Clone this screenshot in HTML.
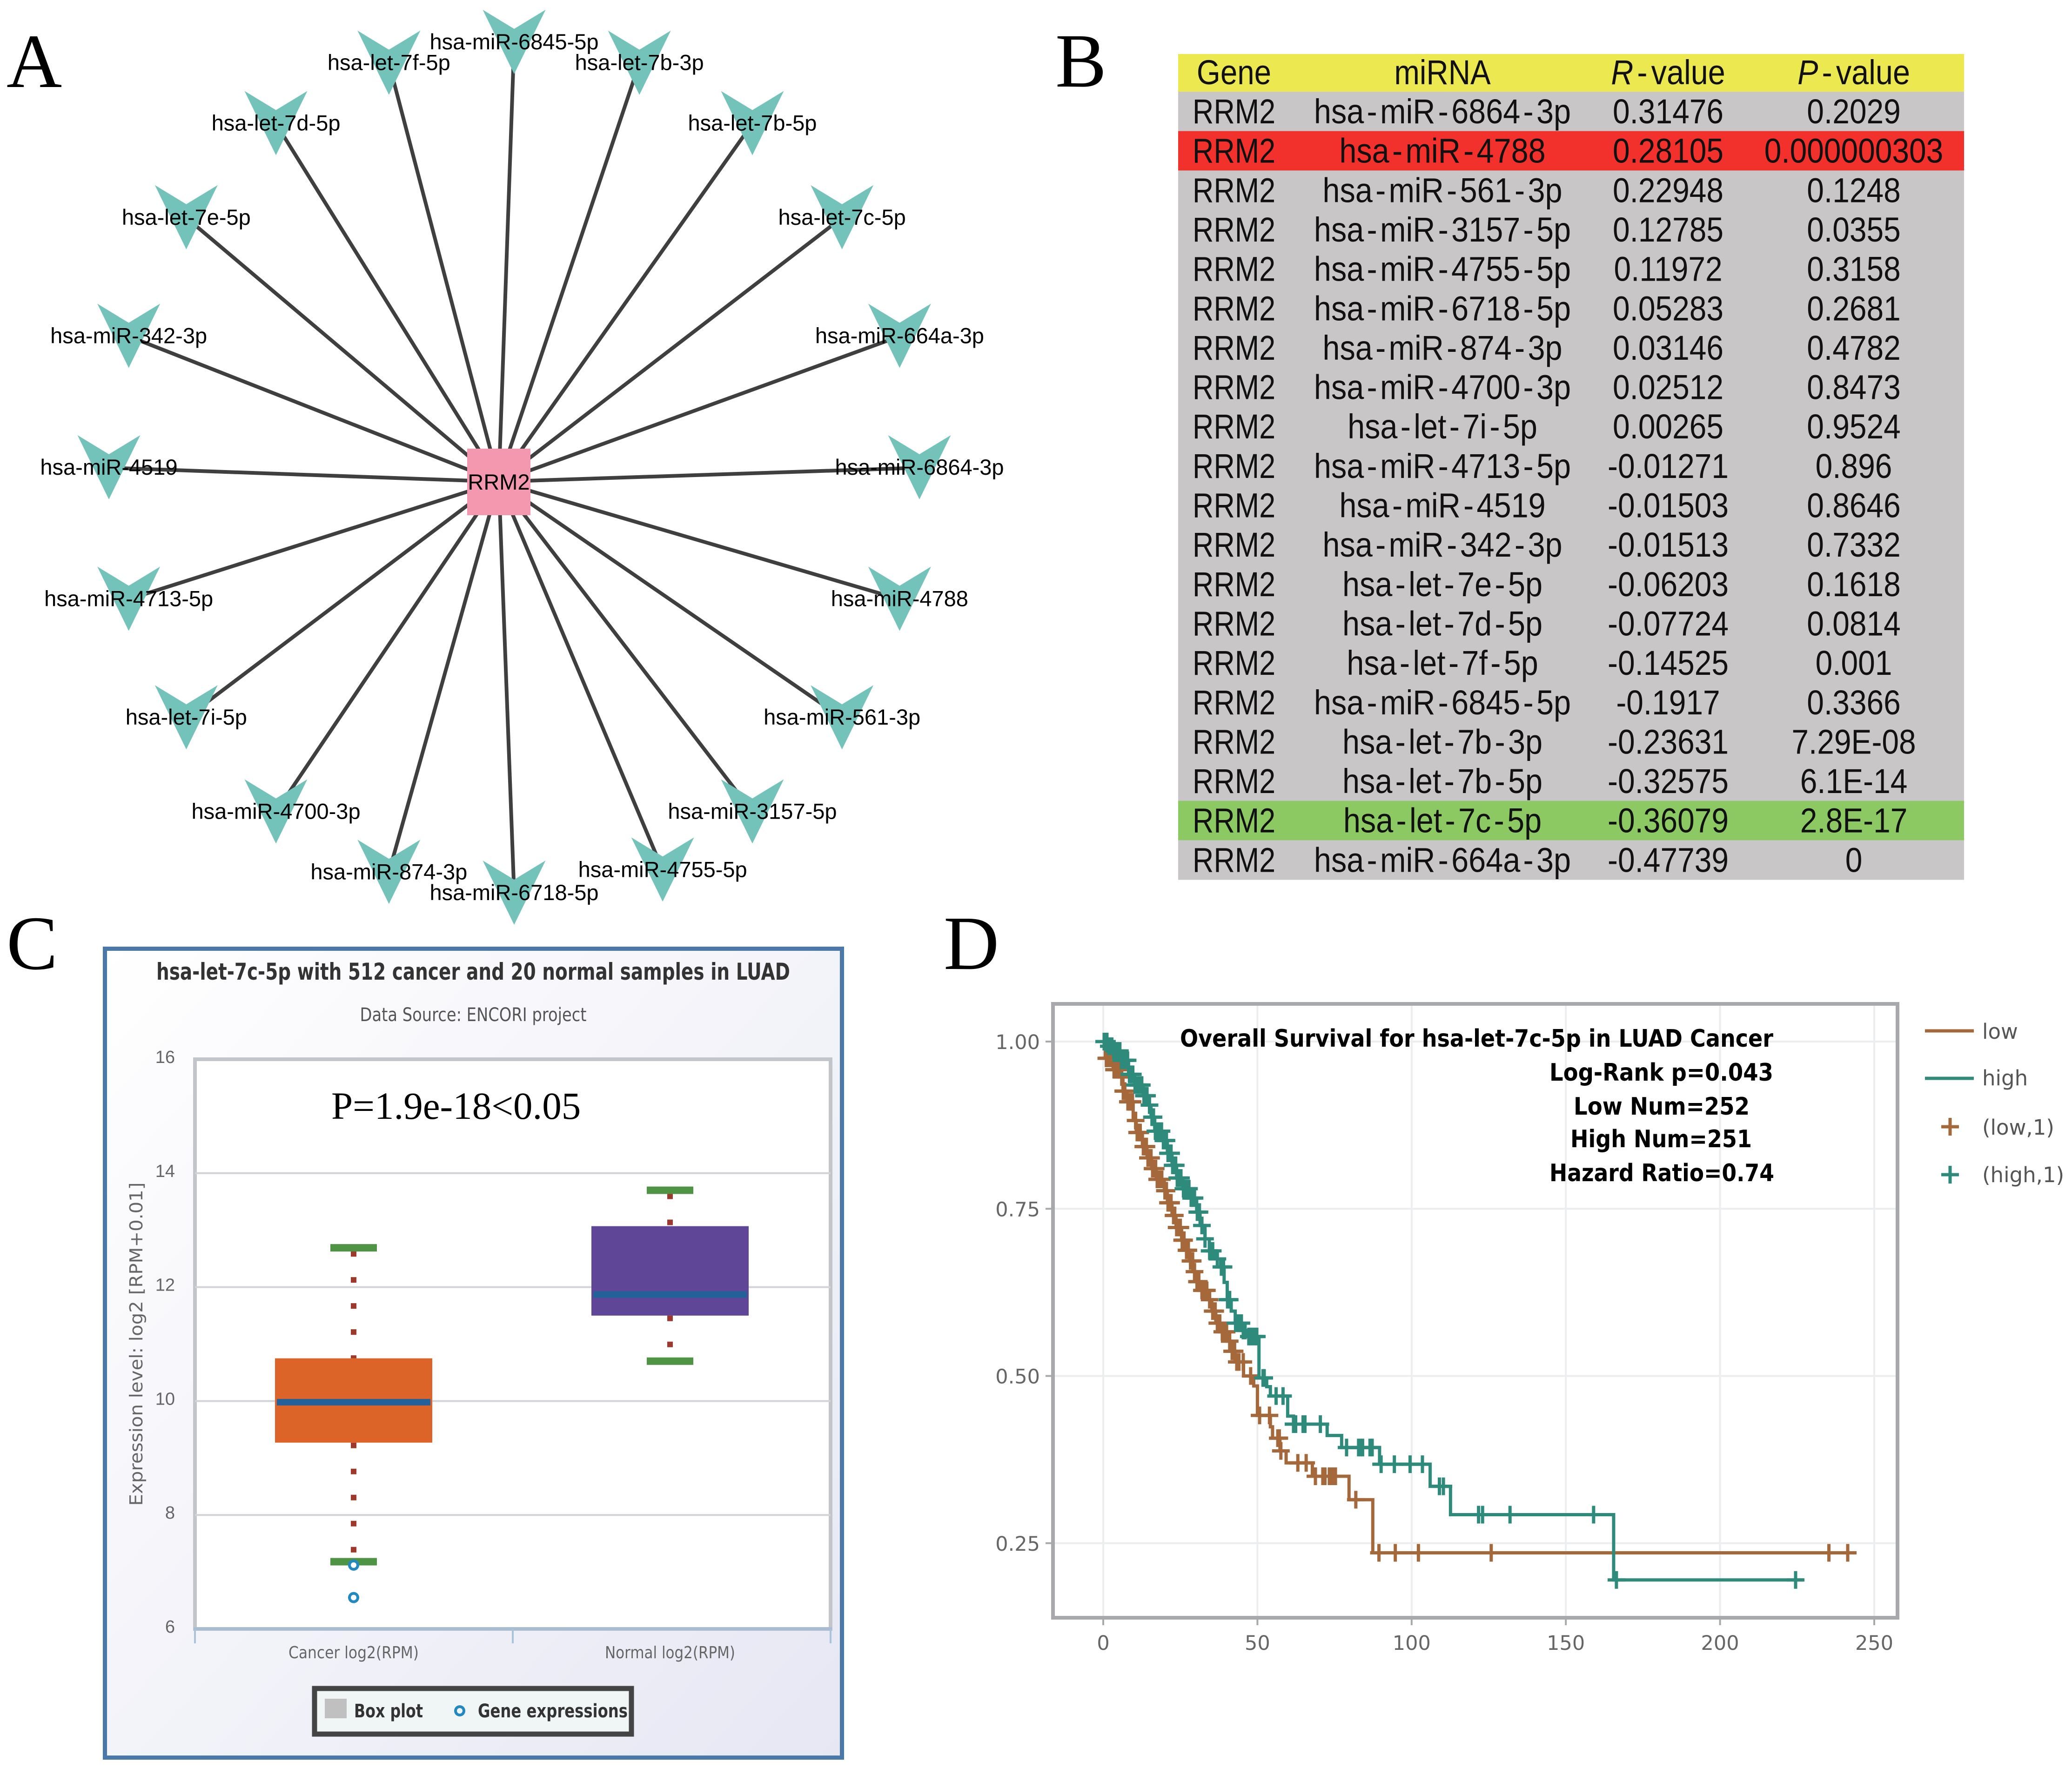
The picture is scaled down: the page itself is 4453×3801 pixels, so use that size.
<!DOCTYPE html>
<html>
<head>
<meta charset="utf-8">
<title>RRM2 miRNA analysis figure</title>
<style>
html,body{margin:0;padding:0;background:#fff;}
svg{display:block;}
.serif{font-family:"Liberation Serif",serif;}
.sans{font-family:"Liberation Sans",sans-serif;}
.dj{font-family:"DejaVu Sans",sans-serif;}
.djb{font-family:"DejaVu Sans",sans-serif;font-weight:bold;}
</style>
</head>
<body>
<svg id="fig" xmlns="http://www.w3.org/2000/svg" width="4453" height="3801" viewBox="0 0 4453 3801">
  <defs>
    <linearGradient id="panelGrad" x1="0" y1="0" x2="1" y2="1">
      <stop offset="0" stop-color="#ffffff"/>
      <stop offset="1" stop-color="#e7e7f4"/>
    </linearGradient>
  </defs>
  <rect x="0" y="0" width="4453" height="3801" fill="#ffffff"/>
  <text class="serif" x="14" y="187" font-size="165" fill="#000">A</text>
  <text class="serif" x="2268" y="186" font-size="165" fill="#000">B</text>
  <text class="serif" x="14" y="2082" font-size="165" fill="#000">C</text>
  <text class="serif" x="2028" y="2082" font-size="165" fill="#000">D</text>
  <g id="network"></g>
  <g id="table"></g>
  <g id="boxchart"></g>
  <g id="kmchart"></g>
</svg>
<script>
/* ---------- Panel A data ---------- */
const networkHub = 'RRM2';
const networkMirnas = ['hsa-miR-6845-5p','hsa-let-7b-3p','hsa-let-7b-5p','hsa-let-7c-5p','hsa-miR-664a-3p','hsa-miR-6864-3p','hsa-miR-4788','hsa-miR-561-3p','hsa-miR-3157-5p','hsa-miR-4755-5p','hsa-miR-6718-5p','hsa-miR-874-3p','hsa-miR-4700-3p','hsa-let-7i-5p','hsa-miR-4713-5p','hsa-miR-4519','hsa-miR-342-3p','hsa-let-7e-5p','hsa-let-7d-5p','hsa-let-7f-5p'];

/* ---------- Panel B data ---------- */
const tableMirna = ['hsa-miR-6864-3p','hsa-miR-4788','hsa-miR-561-3p','hsa-miR-3157-5p','hsa-miR-4755-5p','hsa-miR-6718-5p','hsa-miR-874-3p','hsa-miR-4700-3p','hsa-let-7i-5p','hsa-miR-4713-5p','hsa-miR-4519','hsa-miR-342-3p','hsa-let-7e-5p','hsa-let-7d-5p','hsa-let-7f-5p','hsa-miR-6845-5p','hsa-let-7b-3p','hsa-let-7b-5p','hsa-let-7c-5p','hsa-miR-664a-3p'];
const tableR = ['0.31476','0.28105','0.22948','0.12785','0.11972','0.05283','0.03146','0.02512','0.00265','-0.01271','-0.01503','-0.01513','-0.06203','-0.07724','-0.14525','-0.1917','-0.23631','-0.32575','-0.36079','-0.47739'];
const tableP = ['0.2029','0.000000303','0.1248','0.0355','0.3158','0.2681','0.4782','0.8473','0.9524','0.896','0.8646','0.7332','0.1618','0.0814','0.001','0.3366','7.29E-08','6.1E-14','2.8E-17','0'];

/* ---------- Panel C data ---------- */
const boxCategories = ['Cancer log2(RPM)','Normal log2(RPM)'];
const boxQ1 = [9.27,11.5];
const boxQ3 = [10.75,13.07];
const boxMedian = [9.98,11.87];
const boxWhiskerLow = [7.18,10.7];
const boxWhiskerHigh = [12.69,13.7];
const boxOutliers = [7.12,6.55];
const boxTicks = [6,8,10,12,14,16];

/* ---------- Panel D data ---------- */
const lowTimes = [0,0.65,3.2,5.2,6.4,7.7,9.7,10.7,12.7,14.2,15.7,17.2,19.8,20.8,22.3,23.6,25.4,26.7,28,29.1,30.2,32,33.9,35.2,36.5,38.3,40.2,41.5,42.8,45.5,48.8,50,54.2,54.9,57.3,59.3,67.8,79.7,87.4,244];
const lowSurvival = [1,0.975,0.958,0.947,0.926,0.91,0.882,0.864,0.843,0.826,0.81,0.794,0.777,0.759,0.74,0.722,0.703,0.688,0.672,0.656,0.641,0.628,0.614,0.597,0.579,0.566,0.552,0.537,0.521,0.5,0.485,0.441,0.424,0.407,0.388,0.37,0.35,0.315,0.2356,0.2356];
const highTimes = [0,1.5,3.2,5.7,8.2,10.2,13,14.7,15.5,16.7,19.3,20.8,22.3,23.8,25.8,28.3,30.3,31.4,33,34.4,36.2,38.1,39.2,40.2,41.5,42.8,45,47,50.5,53,54.2,59.8,61.7,72.6,77.3,89.6,106,112.6,165.5,227];
const highSurvival = [1,0.993,0.986,0.972,0.951,0.935,0.919,0.905,0.887,0.866,0.852,0.833,0.815,0.796,0.78,0.766,0.745,0.725,0.705,0.687,0.675,0.663,0.64,0.614,0.597,0.579,0.568,0.559,0.497,0.484,0.47,0.44,0.428,0.411,0.393,0.368,0.335,0.2926,0.195,0.195];
const lowCensored = [0.5,1,1.5,2.5,3,3.5,4.5,5,6,6.5,7,8,8.5,9,9.5,10.5,11,11.5,12,13,13.5,14,14.5,15,15.5,16,16.5,17,17.5,18,18.5,19,20,20.5,21,21.5,22,22.8,23.2,23.8,24.3,25,25.6,26.2,27,27.6,28.3,29,29.6,30.4,31,32,33,33.6,34.5,35.5,36.3,37,37.8,38.6,39.3,40,41,41.8,42.6,43.3,44,45.4,47.8,50.7,53.9,56.6,57.1,57.6,63.1,65.8,68.8,71.2,71.9,73.3,74.3,75.3,81.9,89.4,94.7,102.2,125.8,235.3,241.4];
const highCensored = [0.3,0.8,1.2,1.8,2.3,2.8,3.4,3.9,4.4,4.9,5.4,5.9,6.4,6.9,7.4,7.9,8.5,9,9.6,10.3,11,11.5,12,12.5,13.2,13.7,14.2,15,15.8,16.3,16.9,17.4,17.9,18.4,18.9,19.5,20,20.5,21,21.5,22,22.5,23,23.5,24,24.6,25.2,26,26.6,27.2,27.8,28.5,29,29.6,30.5,31.2,32,33,34.5,35.5,37,38.3,39,40.3,41,42.9,43.5,44.2,44.8,45.4,46,47.2,47.8,48.4,49.2,49.8,51.8,52.2,56.05,58.3,61.7,62,62.4,64.8,65.1,65.4,70.4,78.9,82.8,83.5,84.1,86.5,87.2,90.1,94.4,99.5,103.5,109,110.3,121.7,123,131.9,159,166.4,224.5];
const kmXTicks = [0,50,100,150,200,250];
const kmYTicks = [0.25,0.5,0.75,1];
const kmXTickLabels = ['0','50','100','150','200','250'];
const kmYTickLabels = ['0.25','0.50','0.75','1.00'];

/* ---------- helpers ---------- */
const NS = 'http://www.w3.org/2000/svg';
function mk(tag, attrs, parent, txt){
  const n = document.createElementNS(NS, tag);
  for (const k in attrs) n.setAttribute(k, attrs[k]);
  if (txt !== undefined) n.textContent = txt;
  parent.appendChild(n);
  return n;
}
let el;

/* ---------- Panel A ---------- */
(function(){
  const g = document.getElementById('network');
  const hubX = 1072, hubY = 1035;
  const cx = 1105, cy = 1005, rx = 871, ry = 914;
  const pos = networkMirnas.map(function(name, i){
    const a = i * Math.PI / 10;
    const shifted = name === 'hsa-miR-4755-5p';
    return {name: name, x: cx + rx * Math.sin(a) + (shifted ? 50 : 0), y: cy - ry * Math.cos(a) - (shifted ? 5 : 0)};
  });
  pos.forEach(function(p){
    el = mk('line', {x1: hubX, y1: hubY, x2: p.x, y2: p.y, stroke: '#3f3f3f', 'stroke-width': 8}, g);
    
    
  });
  pos.forEach(function(p){
    el = mk('polygon', {points: [[-67.5,-70],[0,-29],[67.5,-70],[0,68]].map(function(q){return (p.x+q[0])+','+(p.y+q[1]);}).join(' '), fill: '#74c3ba'}, g);
    
    
  });
  el = mk('rect', {x: hubX-68, y: hubY-71, width: 136, height: 143, fill: '#f398ae'}, g);
  
  
  pos.forEach(function(p){
    el = mk('text', {x: p.x, y: p.y + 15, 'text-anchor': 'middle', 'font-size': 47, fill: '#000', class: 'sans'}, g, p.name);
    
    
  });
  el = mk('text', {x: hubX, y: hubY + 17, 'text-anchor': 'middle', 'font-size': 47, fill: '#000', class: 'sans'}, g, networkHub);
  
  
})();

/* ---------- Panel B ---------- */
(function(){
  const g = document.getElementById('table');
  const left = 2532, right = 4221, headTop = 116, rowTop = 197, rowH = 84.65;
  const colGene = 2652, colMirna = 3100, colR = 3585, colP = 3984;
  function cellText(x, base, sx, parts){
    const t = mk('text', {transform: 'translate(' + x + ',' + base + ') scale(' + sx + ',1)', 'text-anchor': 'middle', 'font-size': 74, fill: '#111', class: 'sans'}, g);
    parts.forEach(function(part){
      const a = {};
      if (part.dx) a.dx = part.dx;
      if (part.italic) a['font-style'] = 'italic';
      mk('tspan', a, t, part.s);
    });
    return t;
  }
  function hyphenParts(s){
    const out = [];
    s.split('-').forEach(function(seg, i){
      if (i > 0) { out.push({s: '-', dx: 7}); out.push({s: seg, dx: 7}); }
      else out.push({s: seg});
    });
    return out;
  }
  el = mk('rect', {x: left, y: headTop, width: right-left, height: rowTop-headTop, fill: '#ece84f'}, g);
  
  
  el = cellText(colGene, 181, 0.885, [{s: 'Gene'}]);
  
  
  el = cellText(colMirna, 181, 0.885, [{s: 'miRNA'}]);
  
  
  el = cellText(colR, 181, 0.9, [{s: 'R', italic: true}, {s: '-', dx: 9}, {s: 'value', dx: 9}]);
  
  
  el = cellText(colP, 181, 0.9, [{s: 'P', italic: true}, {s: '-', dx: 9}, {s: 'value', dx: 9}]);
  
  
  tableMirna.forEach(function(name, i){
    const y = rowTop + i * rowH;
    const fill = i === 1 ? '#f2302c' : (i === 18 ? '#8cc963' : '#c8c6c7');
    el = mk('rect', {x: left, y: y, width: right-left, height: rowH + 0.5, fill: fill}, g);
    
    
    const base = y + 68;
    el = cellText(colGene, base, 0.85, [{s: networkHub}]);
    
    
    el = cellText(colMirna, base, 0.9, hyphenParts(name));
    
    
    el = cellText(colR, base, 0.89, [{s: tableR[i]}]);
    
    
    el = cellText(colP, base, 0.89, [{s: tableP[i]}]);
    
    
  });
})();

/* ---------- Panel C ---------- */
(function(){
  const g = document.getElementById('boxchart');
  const L = 419, R = 1785, T = 2276, B = 3500;
  const yScale = function(v){ return B - (v - 6) * (B - T) / 10; };
  const band = (R - L) / boxCategories.length;
  const xScale = function(i){ return 760 + 680 * i; };
  const boxW = 338, capW = 100;

  el = mk('rect', {x: 225.5, y: 2038.5, width: 1584, height: 1738, fill: 'url(#panelGrad)', stroke: '#4a78a8', 'stroke-width': 9}, g);
  
  
  el = mk('text', {x: 1017, y: 2105, 'text-anchor': 'middle', 'font-size': 50, fill: '#333', class: 'djb', textLength: 1362, lengthAdjust: 'spacingAndGlyphs'}, g, 'hsa-let-7c-5p with 512 cancer and 20 normal samples in LUAD');
  
  
  el = mk('text', {x: 1017, y: 2194, 'text-anchor': 'middle', 'font-size': 40, fill: '#555', class: 'dj', textLength: 487, lengthAdjust: 'spacingAndGlyphs'}, g, 'Data Source: ENCORI project');
  
  
  el = mk('rect', {x: L, y: T, width: R-L, height: B-T, fill: '#fff', stroke: '#c2c5c9', 'stroke-width': 8}, g);
  
  

  boxTicks.forEach(function(v){
    if (v > 6 && v < 16) {
      el = mk('line', {x1: L, x2: R, y1: yScale(v), y2: yScale(v), stroke: '#d2d3d6', 'stroke-width': 4}, g);
      
      
    }
    el = mk('text', {x: 376, y: yScale(v) + 8, 'text-anchor': 'end', 'font-size': 38, fill: '#666', class: 'sans'}, g, String(v));
    
    
  });
  el = mk('line', {x1: L-3, x2: R+3, y1: B, y2: B, stroke: '#a9bdd2', 'stroke-width': 7}, g);
  
  
  for (let i = 0; i <= boxCategories.length; i++) {
    el = mk('line', {x1: L + band*i, x2: L + band*i, y1: B, y2: B + 31, stroke: '#a8c4dc', 'stroke-width': 4}, g);
    
    
  }
  el = mk('text', {transform: 'translate(306,2888) rotate(-90)', 'text-anchor': 'middle', 'font-size': 38, fill: '#666', class: 'dj', textLength: 695, lengthAdjust: 'spacingAndGlyphs'}, g, 'Expression level: log2 [RPM+0.01]');
  
  

  const boxColors = ['#dc6429', '#5f4696'];
  boxCategories.forEach(function(cat, i){
    const x = xScale(i);
    el = mk('line', {x1: x, x2: x, y1: yScale(boxWhiskerHigh[i]) + 7, y2: yScale(boxQ3[i]), stroke: '#9c3a2d', 'stroke-width': 12, 'stroke-dasharray': '12 44'}, g);
    
    
    el = mk('line', {x1: x, x2: x, y1: yScale(boxQ1[i]), y2: yScale(boxWhiskerLow[i]) - 8, stroke: '#9c3a2d', 'stroke-width': 12, 'stroke-dasharray': '12 44'}, g);
    
    
    el = mk('rect', {x: x - capW/2, y: yScale(boxWhiskerHigh[i]) - 8, width: capW, height: 16, fill: '#4f9344'}, g);
    
    
    el = mk('rect', {x: x - capW/2, y: yScale(boxWhiskerLow[i]) - 8, width: capW, height: 16, fill: '#4f9344'}, g);
    
    
    el = mk('rect', {x: x - boxW/2, y: yScale(boxQ3[i]), width: boxW, height: yScale(boxQ1[i]) - yScale(boxQ3[i]), fill: boxColors[i]}, g);
    
    
    el = mk('rect', {x: x - boxW/2 + 4, y: yScale(boxMedian[i]) - 7, width: boxW - 8, height: 14, fill: '#23619a'}, g);
    
    
    el = mk('text', {x: x, y: 3563, 'text-anchor': 'middle', 'font-size': 36, fill: '#666', class: 'dj', textLength: 280, lengthAdjust: 'spacingAndGlyphs'}, g, cat);
    
    
  });
  boxOutliers.forEach(function(v){
    el = mk('circle', {cx: xScale(0), cy: yScale(v), r: 9, fill: '#fff', stroke: '#2288c0', 'stroke-width': 6}, g);
    
    
  });
  el = mk('text', {x: 712, y: 2404, 'font-size': 83, fill: '#000', class: 'serif'}, g, 'P=1.9e-18<0.05');
  
  

  el = mk('rect', {x: 676, y: 3628, width: 681, height: 98, fill: '#f0f6f6', stroke: '#444', 'stroke-width': 11}, g);
  
  
  el = mk('rect', {x: 698, y: 3650, width: 47, height: 42, fill: '#c0c0c0'}, g);
  
  
  el = mk('text', {x: 761, y: 3690, 'font-size': 40, fill: '#333', class: 'djb', textLength: 148, lengthAdjust: 'spacingAndGlyphs'}, g, 'Box plot');
  
  
  el = mk('circle', {cx: 988, cy: 3676, r: 9, fill: 'none', stroke: '#2288c0', 'stroke-width': 6}, g);
  
  
  el = mk('text', {x: 1027, y: 3690, 'font-size': 40, fill: '#333', class: 'djb', textLength: 322, lengthAdjust: 'spacingAndGlyphs'}, g, 'Gene expressions');
  
  
})();

/* ---------- Panel D ---------- */
(function(){
  const g = document.getElementById('kmchart');
  const L = 2263, R = 4078, T = 2157, B = 3476;
  const xScale = function(t){ return 2371 + t * 6.628; };
  const yScale = function(s){ return 2238 + (1 - s) * 1437; };
  const lowColor = '#a5683a', highColor = '#2e8b7c';
  function stepPath(times, surv){
    let d = 'M' + xScale(times[0]) + ' ' + yScale(surv[0]);
    for (let i = 1; i < times.length; i++) {
      d += 'H' + xScale(times[i]) + 'V' + yScale(surv[i]);
    }
    return d;
  }
  function survivalAt(times, surv, t){
    let s = surv[0];
    for (let i = 0; i < times.length; i++) { if (times[i] <= t) s = surv[i]; }
    return s;
  }
  function plus(x, y, color, size, sw){
    const h = size / 2;
    return mk('path', {d: 'M' + (x-h) + ' ' + y + 'H' + (x+h) + 'M' + x + ' ' + (y-h) + 'V' + (y+h), stroke: color, 'stroke-width': sw, fill: 'none'}, g);
  }

  kmXTicks.forEach(function(t, i){
    el = mk('line', {x1: xScale(t), x2: xScale(t), y1: T, y2: B, stroke: '#ecedef', 'stroke-width': 4}, g);
    
    
    el = mk('line', {x1: xScale(t), x2: xScale(t), y1: B, y2: B + 16, stroke: '#a8a9ad', 'stroke-width': 4}, g);
    
    
    el = mk('text', {x: xScale(t), y: 3545, 'text-anchor': 'middle', 'font-size': 43, fill: '#666', class: 'dj'}, g, kmXTickLabels[i]);
    
    
  });
  kmYTicks.forEach(function(v, i){
    el = mk('line', {x1: L, x2: R, y1: yScale(v), y2: yScale(v), stroke: '#ecedef', 'stroke-width': 4}, g);
    
    
    el = mk('line', {x1: L - 16, x2: L, y1: yScale(v), y2: yScale(v), stroke: '#a8a9ad', 'stroke-width': 4}, g);
    
    
    el = mk('text', {x: 2235, y: yScale(v) + 16, 'text-anchor': 'end', 'font-size': 43, fill: '#666', class: 'dj'}, g, kmYTickLabels[i]);
    
    
  });
  el = mk('rect', {x: L, y: T, width: R-L, height: B-T, fill: 'none', stroke: '#a8a9ad', 'stroke-width': 8}, g);
  
  

  el = mk('path', {d: stepPath(lowTimes, lowSurvival), fill: 'none', stroke: lowColor, 'stroke-width': 7}, g);
  
  
  lowCensored.forEach(function(t){
    el = plus(xScale(t), yScale(survivalAt(lowTimes, lowSurvival, t)), lowColor, 38, 7);
    
    
  });
  el = mk('path', {d: stepPath(highTimes, highSurvival), fill: 'none', stroke: highColor, 'stroke-width': 7}, g);
  
  
  highCensored.forEach(function(t){
    el = plus(xScale(t), yScale(survivalAt(highTimes, highSurvival, t)), highColor, 38, 7);
    
    
  });

  el = mk('text', {x: 2536, y: 2249, 'font-size': 52, fill: '#000', class: 'djb', textLength: 1275, lengthAdjust: 'spacingAndGlyphs'}, g, 'Overall Survival for hsa-let-7c-5p in LUAD Cancer');
  
  
  el = mk('text', {x: 3330, y: 2322, 'font-size': 52, fill: '#000', class: 'djb', textLength: 481, lengthAdjust: 'spacingAndGlyphs'}, g, 'Log-Rank p=0.043');
  
  
  el = mk('text', {x: 3382, y: 2395, 'font-size': 52, fill: '#000', class: 'djb', textLength: 378, lengthAdjust: 'spacingAndGlyphs'}, g, 'Low Num=252');
  
  
  el = mk('text', {x: 3375, y: 2465, 'font-size': 52, fill: '#000', class: 'djb', textLength: 390, lengthAdjust: 'spacingAndGlyphs'}, g, 'High Num=251');
  
  
  el = mk('text', {x: 3330, y: 2538, 'font-size': 52, fill: '#000', class: 'djb', textLength: 483, lengthAdjust: 'spacingAndGlyphs'}, g, 'Hazard Ratio=0.74');
  
  

  el = mk('line', {x1: 4137, x2: 4242, y1: 2215, y2: 2215, stroke: lowColor, 'stroke-width': 7}, g);
  
  
  el = mk('text', {x: 4260, y: 2232, 'font-size': 45, fill: '#555', class: 'dj'}, g, 'low');
  
  
  el = mk('line', {x1: 4137, x2: 4242, y1: 2317, y2: 2317, stroke: highColor, 'stroke-width': 7}, g);
  
  
  el = mk('text', {x: 4260, y: 2332, 'font-size': 45, fill: '#555', class: 'dj'}, g, 'high');
  
  
  el = plus(4191, 2421, lowColor, 38, 7);
  
  
  el = mk('text', {x: 4260, y: 2438, 'font-size': 45, fill: '#555', class: 'dj'}, g, '(low,1)');
  
  
  el = plus(4191, 2524, highColor, 38, 7);
  
  
  el = mk('text', {x: 4260, y: 2540, 'font-size': 45, fill: '#555', class: 'dj'}, g, '(high,1)');
  
  
})();
</script>
</body>
</html>
